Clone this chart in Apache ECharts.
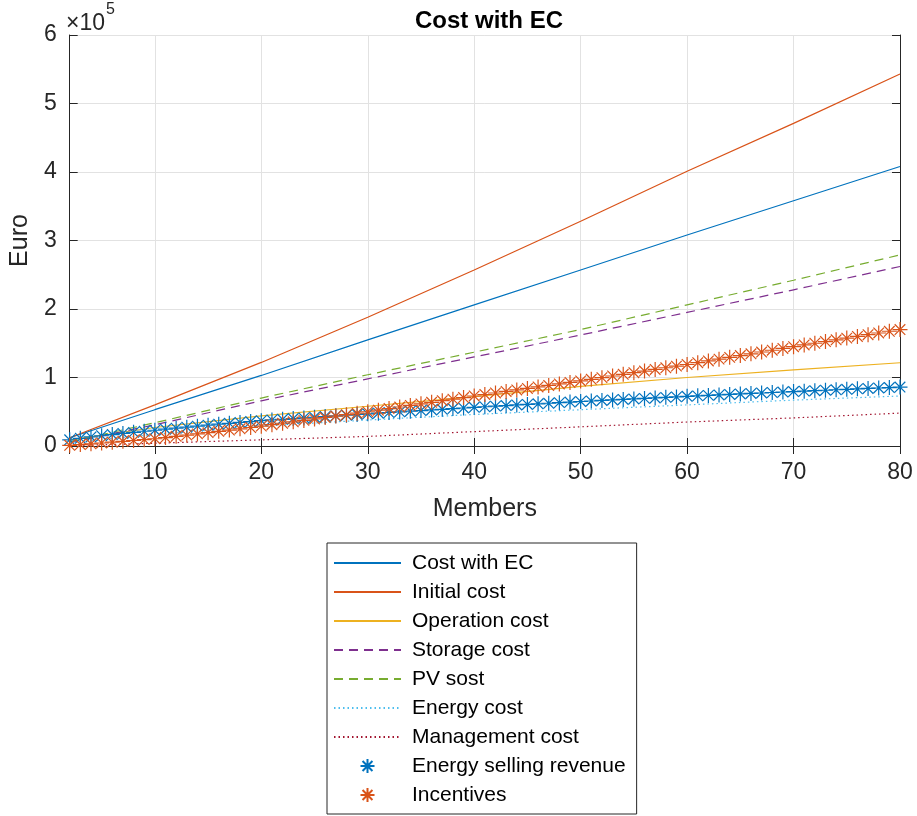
<!DOCTYPE html>
<html>
<head>
<meta charset="utf-8">
<script src="https://cdn.jsdelivr.net/npm/echarts@6/dist/echarts.min.js"></script>
<style>html,body{margin:0;padding:0;background:#fff;}#c{width:917px;height:816px;}</style>
</head>
<body>
<div id="c"></div>
<script>
// ---- data ----
const lineMembers = [2, 10, 20, 30, 40, 50, 60, 70, 80];
const costWithEC     = [12000, 53000, 103000, 155000, 206000, 257000, 308000, 358000, 408000];
const initialCost    = [12000, 60000, 122000, 188000, 257000, 328000, 401000, 471000, 543000];
const operationCost  = [9000, 27000, 44000, 58000, 72000, 87000, 100000, 111000, 121500];
const storageCost    = [5000, 31000, 66000, 98000, 130000, 162000, 195000, 228000, 262000];
const pvCost         = [6000, 34000, 70000, 104000, 137000, 170000, 206000, 242000, 279000];
const energyCost     = [5000, 17000, 29000, 38000, 46000, 53000, 60000, 67000, 73000];
const managementCost = [500, 4000, 9000, 14000, 21000, 28000, 35000, 41000, 48000];

const markerMembers = [2,3,4,5,6,7,8,9,10,11,12,13,14,15,16,17,18,19,20,21,22,23,24,25,26,27,28,29,30,
  31,32,33,34,35,36,37,38,39,40,41,42,43,44,45,46,47,48,49,50,51,52,53,54,55,56,57,58,59,60,
  61,62,63,64,65,66,67,68,69,70,71,72,73,74,75,76,77,78,79,80];
const energySellingRevenue = [9000,11200,13200,15000,16700,18300,19900,21500,23000,
  24500,26000,27500,29000,30400,31800,33100,34400,35700,37000,
  38000,39000,40000,41000,42000,43000,44000,45000,46000,47000,
  47900,48900,49800,50800,51700,52700,53600,54600,55500,56500,
  57300,58200,59000,59900,60700,61600,62400,63300,64100,65000,
  65700,66500,67200,68000,68700,69500,70200,71000,71700,72500,
  73200,73900,74600,75300,76000,76700,77400,78100,78800,79500,
  80100,80800,81400,82100,82700,83400,84000,84700,85300,86000];
const incentives = [1000,2100,3200,4400,5600,6800,8000,9300,10600,
  12300,14100,15900,17700,19500,21400,23200,25100,27000,29000,
  31100,33200,35300,37400,39500,41600,43700,45800,47900,50000,
  52300,54600,56900,59200,61500,63800,66100,68400,70700,73000,
  75200,77400,79600,81800,84000,86200,88400,90600,92800,95000,
  97400,99800,102200,104600,107000,109400,111800,114200,116600,119000,
  121600,124200,126800,129400,132000,134600,137200,139800,142400,145000,
  147500,150000,152500,155000,157500,160000,162500,165000,167500,170000];

const seriesNames = ['Cost with EC','Initial cost','Operation cost','Storage cost','PV sost','Energy cost','Management cost','Energy selling revenue','Incentives'];
const xLabelTicks = [10, 20, 30, 40, 50, 60, 70, 80];
const yTickLabels = ['0','1','2','3','4','5','6'];

// ---- chart ----
const pair = (xs, ys) => xs.map((x, i) => [x, ys[i]]);
const FONT = 'Liberation Sans, Arial, Helvetica, sans-serif';
const AX = '#262626';
const STAR = 'path://M0,-10L0,10M-10,0L10,0M-7.07,-7.07L7.07,7.07M-7.07,7.07L7.07,-7.07';

function lineSeries(name, data, color, type) {
  let lt = 'solid';
  if (type === 'dash') lt = [9, 6];
  if (type === 'dot') lt = [1.5, 3];
  return {
    name, type: 'line', data: pair(lineMembers, data),
    symbol: 'none', showSymbol: false, animation: false,
    lineStyle: { color, width: 1.2, type: lt },
    itemStyle: { color }
  };
}
function starSeries(name, data, color) {
  return {
    name, type: 'scatter', data: pair(markerMembers, data),
    symbol: STAR, symbolSize: 15, animation: false,
    itemStyle: { color: 'rgba(0,0,0,0)', borderColor: color, borderWidth: 1.2, opacity: 1 },
    z: 5
  };
}

const legendData = seriesNames.map((n, i) => i < 7 ? { name: n, itemStyle: { opacity: 0 } } : { name: n });

const chart = echarts.init(document.getElementById('c'), null, { renderer: 'canvas' });
chart.setOption({
  backgroundColor: '#fff',
  animation: false,
  title: {
    text: 'Cost with EC', left: 484, top: 4, textAlign: 'center',
    textStyle: { fontFamily: FONT, fontSize: 24, fontWeight: 'bold', color: '#000' }
  },
  grid: { left: 68, right: 17, top: 35, bottom: 370, containLabel: false },
  xAxis: [{
    type: 'value', min: 2, max: 80, splitNumber: 8, position: 'bottom',
    name: 'Members', nameLocation: 'middle', nameGap: 51,
    nameTextStyle: { fontFamily: FONT, fontSize: 25, color: AX },
    axisLine: { show: true, lineStyle: { color: AX, width: 1 } },
    axisTick: { show: true, inside: true, length: 8, lineStyle: { color: AX } },
    axisLabel: { fontFamily: FONT, fontSize: 23, color: AX, margin: 15, showMinLabel: false,
      formatter: v => (xLabelTicks.indexOf(v) >= 0 ? String(v) : '') },
    splitLine: { show: true, lineStyle: { color: '#e2e2e2', width: 1 } }
  }, {
    type: 'value', min: 2, max: 80, splitNumber: 8, position: 'top',
    axisLine: { show: true, lineStyle: { color: AX, width: 1 } },
    axisTick: { show: true, inside: true, length: 8, lineStyle: { color: AX } },
    axisLabel: { show: false }, splitLine: { show: false }
  }],
  yAxis: [{
    type: 'value', min: 0, max: 600000, interval: 100000, position: 'left',
    name: 'Euro', nameLocation: 'middle', nameGap: 31, nameRotate: 90,
    nameTextStyle: { fontFamily: FONT, fontSize: 25, color: AX },
    axisLine: { show: true, lineStyle: { color: AX, width: 1 } },
    axisTick: { show: true, inside: true, length: 8, lineStyle: { color: AX } },
    axisLabel: { fontFamily: FONT, fontSize: 23, color: AX, margin: 13,
      formatter: v => yTickLabels[Math.round(v / 100000)] },
    splitLine: { show: true, lineStyle: { color: '#e2e2e2', width: 1 } }
  }, {
    type: 'value', min: 0, max: 600000, interval: 100000, position: 'right',
    axisLine: { show: true, lineStyle: { color: AX, width: 1 } },
    axisTick: { show: true, inside: true, length: 8, lineStyle: { color: AX } },
    axisLabel: { show: false }, splitLine: { show: false }
  }],
  graphic: [{
    type: 'text', left: 66, top: 2,
    style: {
      text: '{a|×10}{b|5}',
      rich: {
        a: { fontFamily: FONT, fontSize: 23, fill: AX, verticalAlign: 'bottom', padding: [10, 0, 0, 0] },
        b: { fontFamily: FONT, fontSize: 16, fill: AX, verticalAlign: 'top', padding: [0, 0, 12, 1] }
      }
    }
  }],
  legend: {
    orient: 'vertical', left: 327, top: 543,
    padding: [8, 11, 7, 6], itemGap: 5, itemWidth: 67, itemHeight: 14,
    backgroundColor: '#fff', borderColor: AX, borderWidth: 1, borderRadius: 0,
    textStyle: { fontFamily: FONT, fontSize: 21, color: '#000', lineHeight: 24, padding: [0, 0, 0, 6] },
    data: legendData,
    selectedMode: false
  },
  series: [
    lineSeries(seriesNames[0], costWithEC, '#0072BD', 'solid'),
    lineSeries(seriesNames[1], initialCost, '#D95319', 'solid'),
    lineSeries(seriesNames[2], operationCost, '#EDB120', 'solid'),
    lineSeries(seriesNames[3], storageCost, '#7E2F8E', 'dash'),
    lineSeries(seriesNames[4], pvCost, '#77AC30', 'dash'),
    lineSeries(seriesNames[5], energyCost, '#4DBEEE', 'dot'),
    lineSeries(seriesNames[6], managementCost, '#A2142F', 'dot'),
    starSeries(seriesNames[7], energySellingRevenue, '#0072BD'),
    starSeries(seriesNames[8], incentives, '#D95319')
  ]
});
</script>
</body>
</html>
